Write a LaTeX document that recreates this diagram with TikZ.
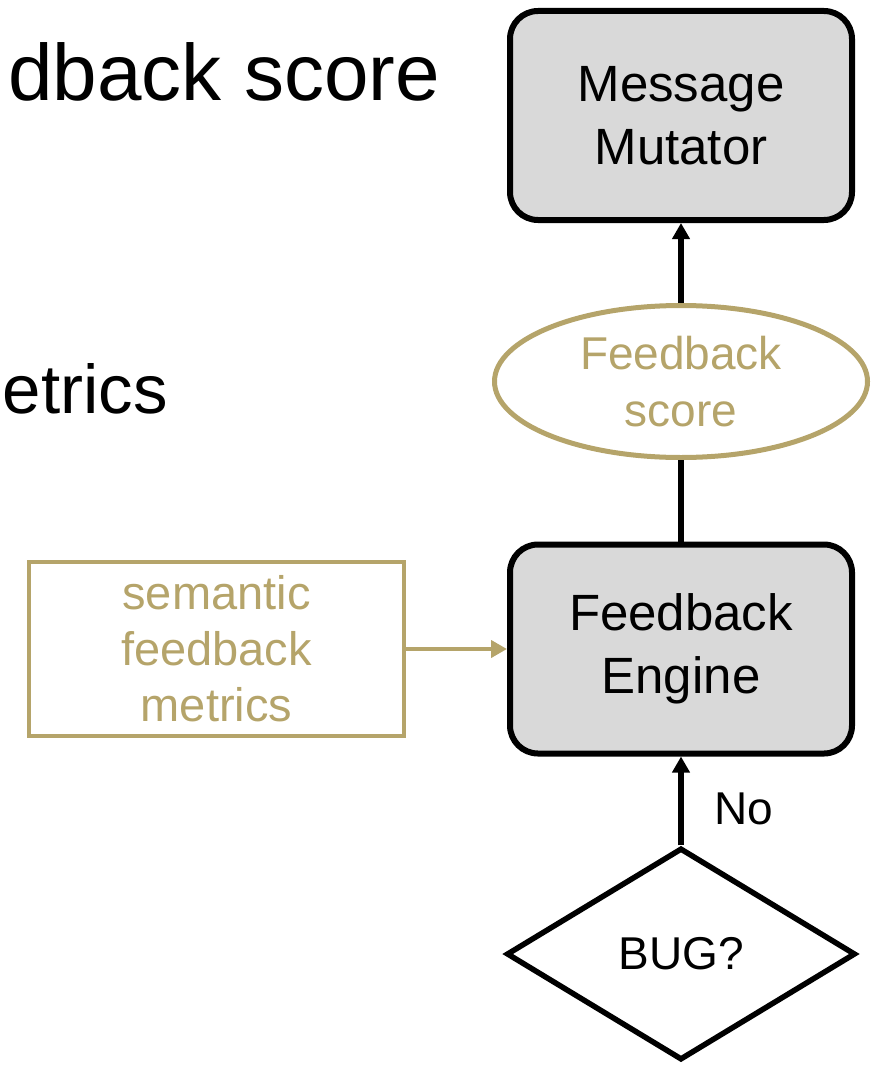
\documentclass[tikz,border=0pt]{standalone}
\usepackage{fontspec}
\setmainfont{Liberation Sans}
\usepackage{tikz}
\usetikzlibrary{shapes.geometric,arrows.meta}

\definecolor{goldColor}{RGB}{181,164,106}
\definecolor{boxColor}{RGB}{217,217,217}

\begin{document}
\begin{tikzpicture}[x=1pt,y=-1pt,
  procBox/.style={draw, line width=6pt, rounded corners=28pt, fill=boxColor,
    minimum width=342pt, minimum height=209pt, inner sep=0pt, align=center,
    font=\fontsize{51}{63}\selectfont},
  scoreOval/.style={ellipse, draw=goldColor, line width=5pt, text=goldColor,
    minimum width=373pt, minimum height=152pt, inner sep=0pt, align=center,
    font=\fontsize{46}{57}\selectfont},
  metricBox/.style={draw=goldColor, line width=4.5pt, text=goldColor,
    minimum width=375pt, minimum height=174pt, inner sep=0pt, align=center,
    font=\fontsize{47}{56}\selectfont},
  bugDiamond/.style={diamond, draw, line width=5.5pt, minimum width=349pt,
    minimum height=212pt, inner sep=0pt, font=\fontsize{46}{55}\selectfont},
  bigText/.style={inner sep=0pt},
  flowLine/.style={line width=5.5pt, -{Triangle[length=16pt,width=17pt]}},
  goldLine/.style={flowLine, draw=goldColor, line width=4.5pt}]
\useasboundingbox (0,0) rectangle (879,1065);

% slide text at the left edge
\node[bigText, anchor=base east, font=\fontsize{80}{86}\selectfont] (topLine) at (440,100) {dback score};
\node[bigText, anchor=base east, font=\fontsize{69}{76}\selectfont] (midLine) at (168,413) {etrics};

% flow
\node[procBox] (mutator) at (681,115.5) {Message\\Mutator};
\node[scoreOval] (feedScore) at (681,381.5) {Feedback\\score};
\node[procBox] (engine) at (681,649) {Feedback\\Engine};
\node[metricBox] (metrics) at (216.5,649) {semantic\\feedback\\metrics};
\node[bugDiamond] (bug) at (681,954) {BUG?};

\draw[flowLine] (feedScore) -- (mutator);
\draw[line width=5.5pt] (engine) -- (feedScore);
\draw[goldLine] (metrics) -- (engine);
\draw[flowLine] (bug) -- node[pos=0.41, right=31pt, inner sep=0pt, font=\fontsize{46}{55}\selectfont] (noLabel) {No} (engine);
\end{tikzpicture}
\end{document}
